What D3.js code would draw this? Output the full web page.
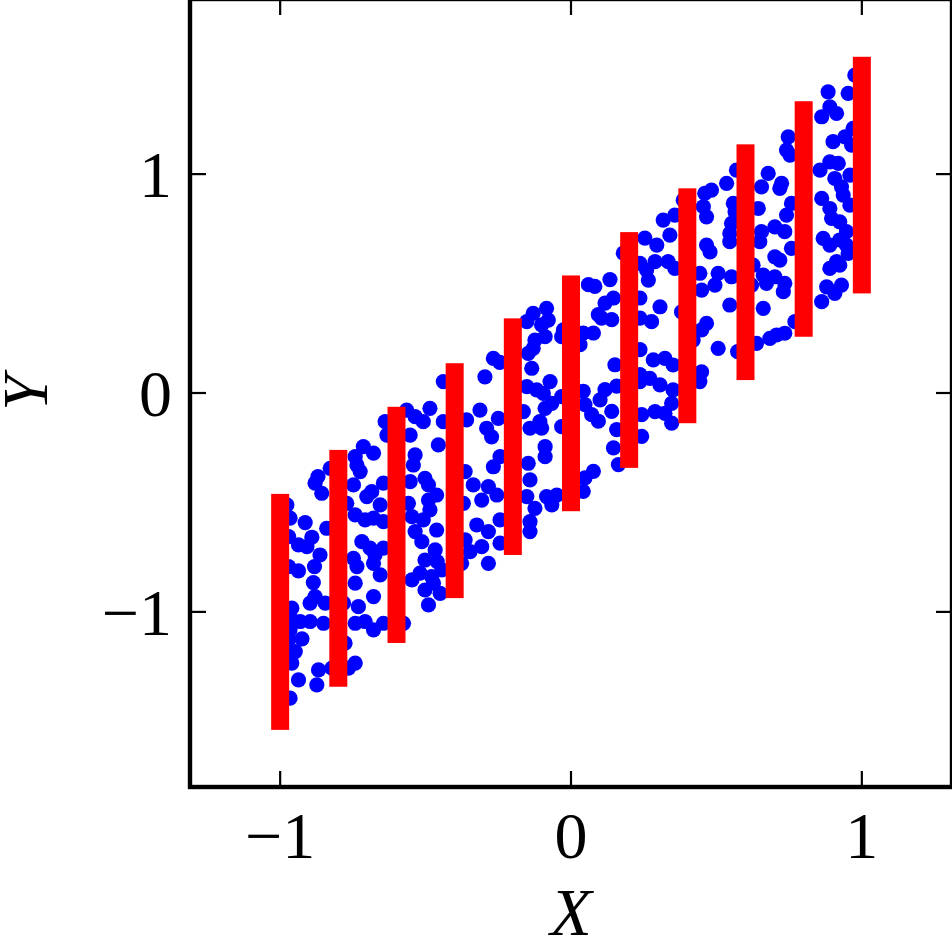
<!DOCTYPE html>
<html>
<head>
<meta charset="utf-8">
<script src="https://cdn.jsdelivr.net/npm/d3@7"></script>
<style>
html,body{margin:0;padding:0;background:#fff;}
svg{display:block;}
</style>
</head>
<body>
<svg id="chart" width="952" height="952"></svg>
<script>
// ---- data ----
const barX = [-1.0, -0.8, -0.6, -0.4, -0.2, 0.0, 0.2, 0.4, 0.6, 0.8, 1.0];
const barLow = [-1.539, -1.342, -1.142, -0.937, -0.740, -0.540, -0.342, -0.138, 0.059, 0.257, 0.455];
const barHigh = [-0.461, -0.260, -0.063, 0.136, 0.341, 0.537, 0.735, 0.935, 1.136, 1.333, 1.536];

const ptX = [
 -0.870,-0.857,-0.828,-0.977,-0.966,-0.914,-0.840,-0.971,-0.891,-0.937,-0.908,-0.863,-0.971,-0.937,-0.882,-0.886,-0.880,-0.897,-0.845,-0.960,-0.960,-0.931,-0.897,-0.851,-0.966,-0.925,-0.971,-0.948,-0.960,-0.868,-0.822,-0.937,-0.874,-0.966,-0.880,
 -0.565,-0.536,-0.639,-0.633,-0.553,-0.714,-0.679,-0.742,-0.736,-0.725,-0.536,-0.542,-0.645,-0.553,-0.748,-0.685,-0.702,-0.771,-0.656,-0.559,-0.742,-0.708,-0.679,-0.645,-0.547,-0.536,-0.719,-0.691,-0.674,-0.645,-0.748,-0.736,-0.656,-0.547,-0.742,-0.679,-0.731,-0.782,-0.742,-0.708,-0.679,-0.645,-0.576,-0.777,-0.742,-0.765,-0.679,
 -0.267,-0.296,-0.439,-0.485,-0.508,-0.439,-0.359,-0.313,-0.290,-0.273,-0.456,-0.364,-0.267,-0.502,-0.490,-0.336,-0.284,-0.462,-0.490,-0.485,-0.370,-0.307,-0.508,-0.462,-0.324,-0.284,-0.513,-0.364,-0.307,-0.467,-0.502,-0.347,-0.376,-0.284,-0.519,-0.479,-0.444,-0.502,-0.450,-0.490,-0.460,-0.473,-0.245,-0.244,
 -0.084,-0.078,-0.130,-0.152,-0.101,-0.026,-0.032,-0.089,-0.124,-0.130,-0.147,-0.135,-0.072,-0.152,-0.118,-0.095,-0.032,-0.066,-0.089,-0.164,-0.250,-0.107,-0.101,-0.032,-0.141,-0.089,-0.089,-0.244,-0.147,-0.141,-0.255,-0.152,-0.084,-0.049,-0.124,-0.066,-0.244,-0.141,-0.141,
 0.254,0.180,0.060,0.082,0.134,0.146,0.117,0.237,0.094,0.105,0.140,0.237,0.042,0.077,0.031,0.237,0.151,0.237,0.042,0.117,0.100,0.157,0.048,0.071,0.094,0.140,0.157,0.243,0.146,0.243,0.163,0.077,0.048,0.042,
 0.483,0.460,0.386,0.455,0.466,0.317,0.357,0.340,0.295,0.466,0.478,0.237,0.289,0.334,0.357,0.260,0.266,0.443,0.506,0.495,0.449,0.306,0.380,0.277,0.466,0.449,0.420,0.506,0.283,0.323,0.351,0.449,0.443,0.306,0.351,0.271,0.237,0.346,0.323,0.346,0.289,
 0.747,0.741,0.753,0.569,0.678,0.535,0.724,0.718,0.655,0.558,0.564,0.644,0.758,0.741,0.552,0.546,0.546,0.655,0.649,0.701,0.735,0.758,0.701,0.718,0.626,0.552,0.661,0.672,0.701,0.735,0.730,0.621,0.546,0.661,0.770,0.684,0.707,0.735,0.573,0.638,
 0.976,0.884,0.953,0.890,0.913,0.862,0.970,0.901,0.942,0.965,0.890,0.919,0.856,0.907,0.930,0.959,0.862,0.936,0.890,0.896,0.959,0.924,0.947,0.867,0.890,0.924,0.947,0.953,0.913,0.890,0.924,0.879,0.907,0.930,0.862
];
const ptY = [
 -0.382,-0.458,-0.344,-0.511,-0.572,-0.592,-0.618,-0.656,-0.659,-0.694,-0.702,-0.740,-0.793,-0.813,-0.793,-0.866,-0.930,-0.960,-0.960,-0.983,-1.037,-1.044,-1.044,-1.052,-1.082,-1.123,-1.128,-1.181,-1.234,-1.265,-1.257,-1.311,-1.333,-1.394,-0.412,
 -0.078,-0.108,-0.131,-0.192,-0.192,-0.245,-0.275,-0.291,-0.329,-0.359,-0.283,-0.329,-0.412,-0.405,-0.420,-0.451,-0.473,-0.504,-0.511,-0.504,-0.557,-0.580,-0.572,-0.588,-0.565,-0.633,-0.679,-0.709,-0.740,-0.709,-0.755,-0.793,-0.831,-0.854,-0.869,-0.930,-0.976,-0.960,-1.052,-1.044,-1.082,-1.052,-1.052,-1.143,-1.234,-1.257,-0.778,
 0.158,0.074,0.052,-0.070,-0.131,-0.131,-0.123,-0.078,-0.161,-0.200,-0.237,-0.359,-0.337,-0.390,-0.420,-0.420,-0.428,-0.466,-0.489,-0.534,-0.504,-0.489,-0.580,-0.626,-0.603,-0.633,-0.679,-0.671,-0.702,-0.717,-0.763,-0.725,-0.778,-0.778,-0.823,-0.839,-0.808,-0.900,-0.915,-0.968,-0.770,-0.869,0.140,-0.686,
 0.387,0.333,0.364,0.326,0.311,0.288,0.257,0.257,0.242,0.204,0.181,0.113,0.052,0.029,0.014,-0.002,-0.017,-0.047,-0.070,-0.085,-0.116,-0.131,-0.161,-0.154,-0.161,-0.245,-0.291,-0.291,-0.321,-0.397,-0.466,-0.473,-0.473,-0.466,-0.527,-0.511,-0.580,-0.588,-0.633,
 0.708,0.639,0.495,0.487,0.518,0.434,0.411,0.434,0.358,0.342,0.335,0.342,0.274,0.274,0.221,0.198,0.129,0.084,0.008,0.015,-0.031,0.031,-0.053,-0.099,-0.129,-0.084,-0.167,-0.099,-0.251,-0.198,-0.327,-0.358,-0.388,-0.449,
 0.927,0.912,0.881,0.851,0.805,0.790,0.813,0.721,0.676,0.676,0.645,0.592,0.600,0.600,0.569,0.562,0.516,0.547,0.547,0.493,0.470,0.394,0.371,0.326,0.318,0.288,0.242,0.204,0.151,0.158,0.128,0.097,0.052,0.037,0.014,0.067,0.052,-0.047,-0.093,-0.138,-0.085,
 1.170,1.110,1.087,1.018,1.003,0.958,0.958,0.935,0.942,0.866,0.828,0.843,0.866,0.813,0.775,0.729,0.691,0.737,0.691,0.759,0.737,0.661,0.622,0.607,0.584,0.531,0.539,0.501,0.531,0.501,0.463,0.493,0.402,0.387,0.326,0.250,0.265,0.273,0.189,0.227,
 1.452,1.376,1.369,1.307,1.277,1.262,1.209,1.148,1.170,1.132,1.056,1.049,1.018,0.980,0.942,0.995,0.889,0.904,0.843,0.798,0.858,0.782,0.737,0.706,0.676,0.699,0.676,0.638,0.600,0.569,0.584,0.485,0.455,0.493,0.417
];

const xTicks = [-1, 0, 1];
const yTicks = [-1, 0, 1];
const xTickLabels = ["\u22121", "0", "1"];
const yTickLabels = ["\u22121", "0", "1"];

// ---- drawing ----
const svg = d3.select("#chart");
const x = d3.scaleLinear().domain([-1.31, 1.31]).range([190, 952]);
const y = d3.scaleLinear().domain([-1.8, 1.8]).range([787, -1]);

const font = "'Liberation Serif', 'DejaVu Serif', serif";

// points
const pts = ptX.map((v, i) => ({x: v, y: ptY[i]}));
svg.append("g").selectAll("circle").data(pts).join("circle")
  .attr("cx", d => x(d.x)).attr("cy", d => y(d.y)).attr("r", 7.6)
  .attr("fill", "#0000ff");

// red interval bars
const bars = barX.map((v, i) => ({x: v, lo: barLow[i], hi: barHigh[i]}));
svg.append("g").selectAll("rect").data(bars).join("rect")
  .attr("x", d => x(d.x) - 9).attr("width", 18)
  .attr("y", d => y(d.hi)).attr("height", d => y(d.lo) - y(d.hi))
  .attr("fill", "#ff0000");

// ticks (inward, all four sides)
const tl = 16;
const tg = svg.append("g").attr("stroke", "#000").attr("stroke-width", 2.2);
xTicks.forEach(t => {
  tg.append("line").attr("x1", x(t)).attr("x2", x(t)).attr("y1", y.range()[0]).attr("y2", y.range()[0] - tl);
  tg.append("line").attr("x1", x(t)).attr("x2", x(t)).attr("y1", y.range()[1]).attr("y2", y.range()[1] + tl);
});
yTicks.forEach(t => {
  tg.append("line").attr("y1", y(t)).attr("y2", y(t)).attr("x1", x.range()[0]).attr("x2", x.range()[0] + tl);
  tg.append("line").attr("y1", y(t)).attr("y2", y(t)).attr("x1", x.range()[1]).attr("x2", x.range()[1] - tl);
});

// frame
svg.append("rect")
  .attr("x", x.range()[0]).attr("y", y.range()[1])
  .attr("width", x.range()[1] - x.range()[0]).attr("height", y.range()[0] - y.range()[1])
  .attr("fill", "none").attr("stroke", "#000").attr("stroke-width", 4.4);

// tick labels
svg.append("g").selectAll("text").data(xTicks).join("text")
  .attr("x", d => x(d)).attr("y", 858)
  .attr("text-anchor", "middle")
  .attr("font-family", font).attr("font-size", 66)
  .text((d, i) => xTickLabels[i]);

svg.append("g").selectAll("text").data(yTicks).join("text")
  .attr("x", 172).attr("y", d => y(d) + 23)
  .attr("text-anchor", "end")
  .attr("font-family", font).attr("font-size", 66)
  .text((d, i) => yTickLabels[i]);

// axis labels
svg.append("text")
  .attr("x", 571).attr("y", 935)
  .attr("text-anchor", "middle")
  .attr("font-family", font).attr("font-style", "italic").attr("font-size", 68)
  .text("X");

svg.append("text")
  .attr("transform", `translate(47,${y(0)}) rotate(-90)`)
  .attr("text-anchor", "middle")
  .attr("font-family", font).attr("font-style", "italic").attr("font-size", 64)
  .text("Y");
</script>
</body>
</html>
